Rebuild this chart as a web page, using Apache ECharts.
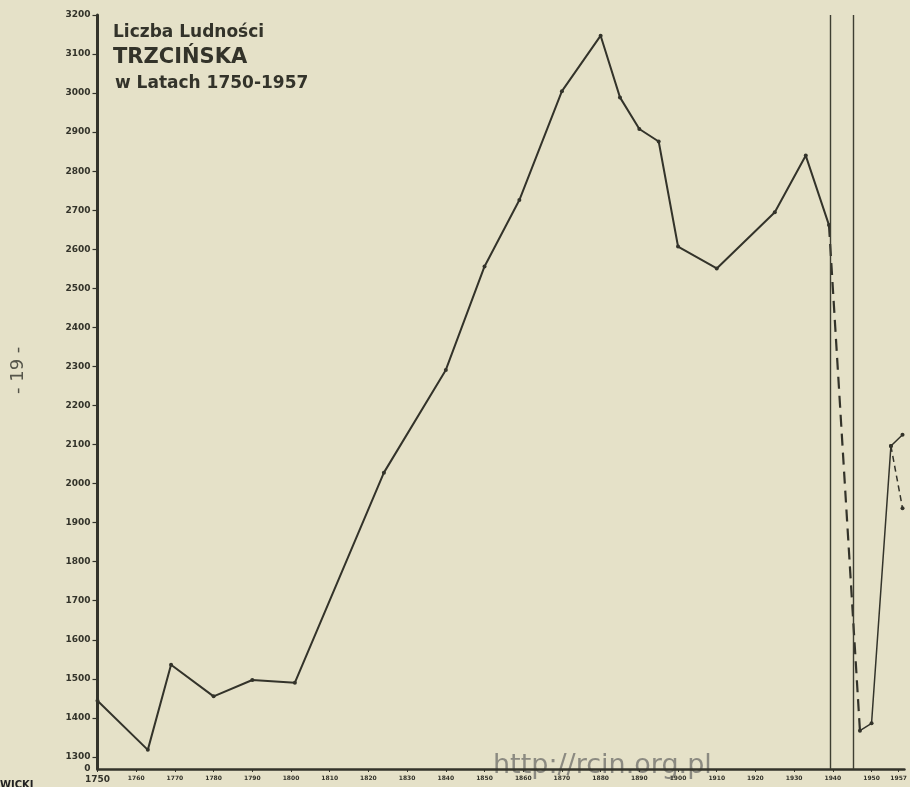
<!DOCTYPE html>
<html>
<head>
<meta charset="utf-8">
<script src="https://cdn.jsdelivr.net/npm/echarts@6/dist/echarts.min.js"></script>
<style>
html,body{margin:0;padding:0;background:#e5e1c8;}
#chart{width:910px;height:787px;}
</style>
</head>
<body>
<div id="chart"></div>
<script>
// ---- data ----
var mainYears  = [1750,1763,1769,1780,1790,1801,1824,1840,1850,1859,1870,1880,1885,1890,1895,1900,1910,1925,1933,1939];
var mainValues = [1444,1318,1536,1455,1497,1490,2028,2291,2556,2726,3005,3147,2989,2908,2876,2607,2551,2695,2840,2662];
var warYears   = [1939,1947];
var warValues  = [2662,1367];
var postYears  = [1947,1950,1955,1958];
var postValues = [1367,1386,2096,2125];
var altYears   = [1955,1958];
var altValues  = [2096,1937];
var xTickLabels = [1750,1760,1770,1780,1790,1800,1810,1820,1830,1840,1850,1860,1870,1880,1890,1900,1910,1920,1930,1940,1950,1957];
var yTickLabels = [1300,1400,1500,1600,1700,1800,1900,2000,2100,2200,2300,2400,2500,2600,2700,2800,2900,3000,3100,3200];
var warLines = [1939.4,1945.3];
var titleLines = ['Liczba Ludności','TRZCIŃSKA','w Latach 1750-1957'];

function pairs(xs, ys){ return xs.map(function(x,i){ return [x, ys[i]]; }); }

var ink = '#33332a';
var chart = echarts.init(document.getElementById('chart'));
chart.setOption({
  backgroundColor: '#e5e1c8',
  animation: false,
  grid: { left: 97.5, right: 5.4, top: 15, bottom: 18, containLabel: false },
  xAxis: {
    type: 'value', min: 1750, max: 1958.5,
    splitLine: { show: false },
    axisLine: { lineStyle: { color: ink, width: 2.5 } },
    axisTick: { customValues: xTickLabels, length: 3, lineStyle: { color: ink, width: 1 } },
    axisLabel: {
      customValues: xTickLabels, margin: 6,
      formatter: function(v){ return v === 1750 ? '{a|' + v + '}' : '{b|' + v + '}'; },
      rich: {
        a: { fontSize: 9, fontWeight: 'bold', color: ink, fontFamily: 'DejaVu Sans' },
        b: { fontSize: 6, fontWeight: 'bold', color: ink, fontFamily: 'DejaVu Sans' }
      }
    }
  },
  yAxis: {
    type: 'value', min: 1269, max: 3200,
    splitLine: { show: false },
    axisLine: { show: true, lineStyle: { color: ink, width: 3 } },
    axisTick: { show: true, customValues: yTickLabels, length: 5, lineStyle: { color: ink, width: 1.2 } },
    axisLabel: {
      customValues: [1269].concat(yTickLabels), margin: 7,
      formatter: function(v){ return v === 1269 ? '0' : String(v); },
      fontSize: 9, fontWeight: 'bold', color: ink, fontFamily: 'DejaVu Sans'
    }
  },
  series: [
    {
      type: 'line', data: pairs(mainYears, mainValues),
      symbol: 'circle', symbolSize: 4, showSymbol: true,
      lineStyle: { color: ink, width: 2 }, itemStyle: { color: ink },
      markLine: {
        silent: true, symbol: 'none', label: { show: false },
        lineStyle: { color: '#3e3e32', width: 1.4, type: 'solid' },
        data: warLines.map(function(x){ return { xAxis: x }; })
      }
    },
    {
      type: 'line', data: pairs(warYears, warValues),
      symbol: 'none',
      lineStyle: { color: ink, width: 2.2, type: [12, 7] }
    },
    {
      type: 'line', data: pairs(postYears, postValues),
      symbol: 'circle', symbolSize: 4,
      lineStyle: { color: ink, width: 1.5 }, itemStyle: { color: ink }
    },
    {
      type: 'line', data: pairs(altYears, altValues),
      symbol: 'circle', symbolSize: 4,
      lineStyle: { color: ink, width: 1.5, type: [6, 4] }, itemStyle: { color: ink }
    }
  ],
  graphic: [
    { type: 'text', left: 113, top: 24, style: { text: titleLines[0], font: 'bold 17px "DejaVu Sans"', fill: ink } },
    { type: 'text', left: 113, top: 47, style: { text: titleLines[1], font: 'bold 21px "DejaVu Sans"', fill: ink } },
    { type: 'text', left: 115, top: 75, style: { text: titleLines[2], font: 'bold 17px "DejaVu Sans"', fill: ink } },
    { type: 'text', x: 9, y: 394, rotation: Math.PI/2,
      style: { text: '- 19 -', font: '18px "DejaVu Sans"', fill: '#55554a', textAlign: 'left', textVerticalAlign: 'top' } },
    { type: 'text', left: 0, top: 780, style: { text: 'WICKI', font: 'bold 10px "DejaVu Sans"', fill: '#222' } },
    { type: 'text', left: 493, top: 752, style: { text: 'http://rcin.org.pl', font: '27px "DejaVu Sans"', fill: 'rgba(90,90,90,0.65)' } }
  ]
});
</script>
</body>
</html>
